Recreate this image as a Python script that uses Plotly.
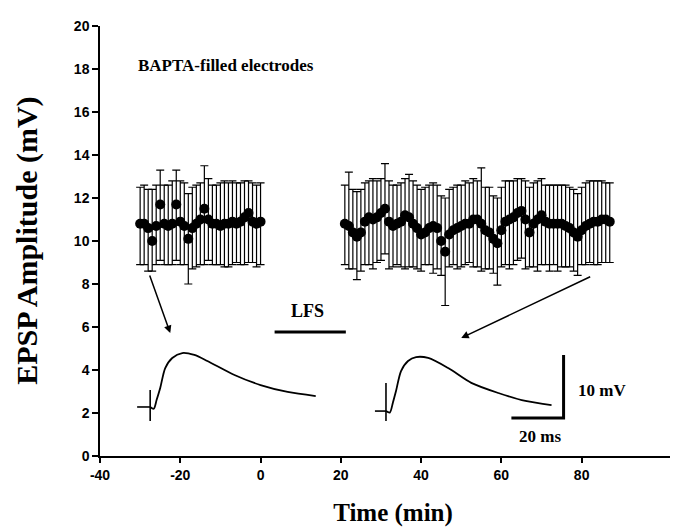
import plotly.graph_objects as go

# ---- data ----
pre_time = [-30, -29, -28, -27, -26, -25, -24, -23, -22, -21, -20, -19, -18, -17, -16, -15,
            -14, -13, -12, -11, -10, -9, -8, -7, -6, -5, -4, -3, -2, -1, 0]
pre_mean = [10.8, 10.8, 10.6, 10.0, 10.7, 11.7, 10.8, 10.7, 10.8, 11.7, 10.9, 10.7, 10.1, 10.6, 10.8, 11.0,
            11.5, 11.0, 10.8, 10.8, 10.7, 10.8, 10.8, 10.9, 10.8, 10.9, 11.1, 11.3, 10.9, 10.8, 10.9]
pre_err_up = [1.7, 1.8, 1.8, 2.4, 1.9, 1.6, 1.8, 1.9, 2.0, 1.6, 1.9, 2.0, 2.1, 1.9, 1.8, 1.7,
              2.0, 1.9, 1.8, 1.8, 2.0, 2.0, 1.9, 1.9, 1.9, 1.8, 1.7, 1.5, 1.8, 1.8, 1.8]
pre_err_dn = [1.9, 1.9, 2.0, 1.4, 1.8, 2.6, 1.9, 1.8, 1.9, 2.6, 2.0, 1.8, 2.1, 1.9, 2.0, 2.1,
              2.6, 1.9, 1.9, 1.9, 1.8, 2.0, 2.0, 2.0, 1.8, 2.0, 2.2, 2.3, 1.9, 2.0, 2.0]

post_time = [21, 22, 23, 24, 25, 26, 27, 28, 29, 30, 31, 32, 33, 34, 35, 36, 37, 38, 39, 40,
             41, 42, 43, 44, 45, 46, 47, 48, 49, 50, 51, 52, 53, 54, 55, 56, 57, 58, 59, 60,
             61, 62, 63, 64, 65, 66, 67, 68, 69, 70, 71, 72, 73, 74, 75, 76, 77, 78, 79, 80,
             81, 82, 83, 84, 85, 86, 87]
post_mean = [10.8, 10.7, 10.4, 10.2, 10.4, 10.9, 11.1, 11.0, 11.1, 11.3,
             11.5, 10.9, 10.7, 10.8, 10.9, 11.2, 11.1, 10.8, 10.6, 10.3,
             10.4, 10.6, 10.7, 10.6, 10.0, 9.5, 10.3, 10.5, 10.6, 10.7,
             10.8, 10.8, 11.0, 11.0, 10.8, 10.5, 10.4, 10.1, 9.9, 10.5,
             10.9, 11.0, 11.1, 11.3, 11.4, 11.0, 10.4, 10.8, 11.0, 11.2,
             10.9, 10.8, 10.8, 10.8, 10.8, 10.7, 10.6, 10.4, 10.2, 10.5,
             10.7, 10.8, 10.9, 10.9, 11.0, 11.0, 10.9]
post_err_up = [1.8, 2.5, 2.0, 2.1, 2.0, 1.8, 1.7, 1.9, 1.7, 1.6,
               2.1, 1.9, 1.9, 1.8, 1.8, 1.7, 2.0, 2.0, 2.0, 2.1,
               2.1, 2.0, 2.0, 2.0, 2.1, 2.5, 2.1, 2.0, 2.0, 1.9,
               2.0, 1.9, 1.9, 1.8, 2.6, 2.0, 2.1, 2.0, 2.1, 2.0,
               1.9, 1.8, 1.7, 1.6, 1.5, 1.8, 2.1, 1.9, 1.8, 1.7,
               1.7, 1.8, 1.8, 1.8, 1.8, 1.9, 1.9, 2.0, 2.0, 2.0,
               2.0, 2.0, 1.9, 1.9, 1.8, 1.7, 1.8]
post_err_dn = [1.9, 2.0, 1.7, 2.0, 1.8, 2.0, 2.2, 2.3, 2.1, 2.2,
               2.1, 2.2, 1.9, 1.9, 2.1, 2.5, 2.3, 2.0, 1.9, 1.7,
               1.5, 1.7, 2.2, 1.9, 1.6, 2.5, 1.5, 1.6, 1.9, 1.9,
               1.9, 1.8, 2.2, 2.2, 2.2, 1.8, 1.7, 1.6, 1.95, 1.7,
               2.0, 2.3, 2.2, 2.2, 2.2, 2.3, 1.6, 2.0, 2.4, 2.3,
               2.0, 2.2, 1.9, 2.2, 2.0, 1.9, 1.8, 1.8, 1.8, 1.6,
               1.8, 1.8, 2.0, 2.0, 2.0, 2.0, 1.9]

# sample EPSP traces (drawn in axis units)
stim1_x = [-30.75, -27.5, None, -27.5, -27.5]
stim1_y = [2.28, 2.28, None, 3.07, 1.63]
epsp1_x = [-27.5, -26.6, -25.9, -25, -23.75, -22, -19.5, -16.5, -13.25, -6.5, 0, 6.75, 13.75]
epsp1_y = [2.28, 2.2, 2.6, 3.16, 4.09, 4.56, 4.79, 4.70, 4.42, 3.77, 3.30, 2.98, 2.79]
stim2_x = [28.5, 31.25, None, 31.25, 31.25]
stim2_y = [2.09, 2.09, None, 3.40, 1.63]
epsp2_x = [31.25, 32.2, 33, 33.75, 35, 36.75, 38.75, 41.75, 46.75, 52.5, 59.25, 66, 72.5]
epsp2_y = [2.09, 2.02, 2.5, 3.02, 3.95, 4.42, 4.60, 4.56, 4.09, 3.40, 2.93, 2.56, 2.37]

lfs_x = [3.5, 21.25]
lfs_y = [5.77, 5.77]
scalebar_x = [62.5, 75.5, 75.5]
scalebar_y = [1.77, 1.77, 4.70]

x_ticks = [-40, -20, 0, 20, 40, 60, 80]
y_ticks = [0, 2, 4, 6, 8, 10, 12, 14, 16, 18, 20]

SERIF = "Liberation Serif"
SANS = "Liberation Sans"

fig = go.Figure()

for xs, ys, up, dn in [(pre_time, pre_mean, pre_err_up, pre_err_dn),
                       (post_time, post_mean, post_err_up, post_err_dn)]:
    fig.add_trace(go.Scatter(
        x=xs, y=ys, mode="markers",
        marker=dict(color="black", size=10),
        error_y=dict(type="data", array=up, arrayminus=dn, symmetric=False,
                     color="black", thickness=1.2, width=4),
        showlegend=False, hoverinfo="skip"))

for xs, ys in [(stim1_x, stim1_y), (stim2_x, stim2_y)]:
    fig.add_trace(go.Scatter(x=xs, y=ys, mode="lines", connectgaps=False,
                             line=dict(color="black", width=1.6),
                             showlegend=False, hoverinfo="skip"))
for xs, ys in [(epsp1_x, epsp1_y), (epsp2_x, epsp2_y)]:
    fig.add_trace(go.Scatter(x=xs, y=ys, mode="lines",
                             line=dict(color="black", width=1.8, shape="spline", smoothing=0.8),
                             showlegend=False, hoverinfo="skip"))

fig.add_trace(go.Scatter(x=lfs_x, y=lfs_y, mode="lines",
                         line=dict(color="black", width=3), showlegend=False, hoverinfo="skip"))
fig.add_trace(go.Scatter(x=scalebar_x, y=scalebar_y, mode="lines",
                         line=dict(color="black", width=3), showlegend=False, hoverinfo="skip"))

annos = [
    dict(x=-31, y=18.15, text="<b>BAPTA-filled electrodes</b>", xanchor="left", yanchor="middle",
         showarrow=False, font=dict(family=SERIF, size=17, color="black")),
    dict(x=11.75, y=6.74, text="<b>LFS</b>", xanchor="center", yanchor="middle",
         showarrow=False, font=dict(family=SERIF, size=18, color="black")),
    dict(x=78.5, y=3.07, text="<b>10 mV</b>", xanchor="left", yanchor="middle",
         showarrow=False, font=dict(family=SERIF, size=17, color="black")),
    dict(x=69.5, y=0.93, text="<b>20 ms</b>", xanchor="center", yanchor="middle",
         showarrow=False, font=dict(family=SERIF, size=17, color="black")),
    dict(x=-22.5, y=5.72, ax=-27.75, ay=8.47, axref="x", ayref="y", xref="x", yref="y",
         text="", showarrow=True, arrowhead=2, arrowsize=1, arrowwidth=1.5, arrowcolor="black"),
    dict(x=50, y=5.49, ax=82.5, ay=8.37, axref="x", ayref="y", xref="x", yref="y",
         text="", showarrow=True, arrowhead=2, arrowsize=1, arrowwidth=1.5, arrowcolor="black"),
    dict(x=-0.125, y=0.5, xref="paper", yref="paper", xanchor="center", yanchor="middle",
         text="<b>EPSP Amplitude (mV)</b>", textangle=-90, showarrow=False,
         font=dict(family=SERIF, size=30, color="black")),
]

fig.update_layout(
    width=678, height=531,
    margin=dict(l=92, r=0, t=18, b=83),
    paper_bgcolor="white", plot_bgcolor="white",
    xaxis=dict(range=[-40, 106], tickvals=x_ticks, ticktext=["<b>%d</b>" % v for v in x_ticks],
               showgrid=False, zeroline=False, showline=True, linecolor="black", linewidth=1.5,
               ticks="outside", ticklen=5, tickwidth=1.5, tickcolor="black",
               tickfont=dict(family=SANS, size=14, color="black"),
               title=dict(text="<b>Time (min)</b>", font=dict(family=SERIF, size=25, color="black"), standoff=22)),
    yaxis=dict(range=[0, 20], tickvals=y_ticks, ticktext=["<b>%d</b>" % v for v in y_ticks],
               showgrid=False, zeroline=False, showline=True, linecolor="black", linewidth=1.5,
               ticks="outside", ticklen=6, tickwidth=1.5, tickcolor="black",
               tickfont=dict(family=SANS, size=14, color="black")),
    annotations=annos,
)

fig.write_html("out.html")
